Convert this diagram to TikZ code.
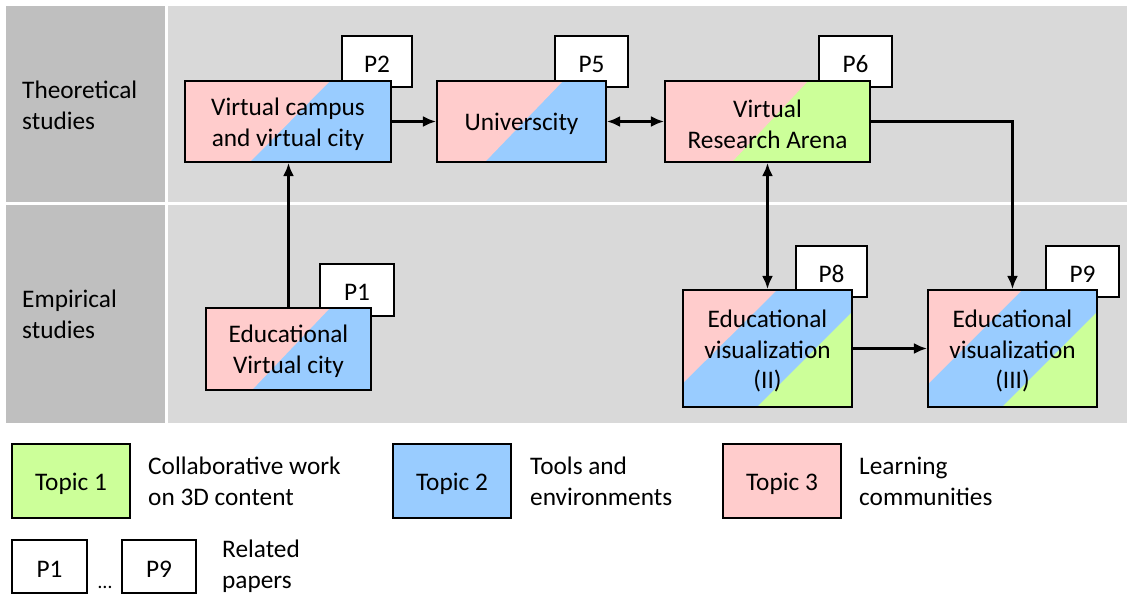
\documentclass[tikz,border=0pt]{standalone}
\usepackage{fontspec}
\setmainfont{Carlito}
\usetikzlibrary{arrows.meta}
\definecolor{topicA}{HTML}{CCFF99}% collaborative work
\definecolor{topicB}{HTML}{99CCFF}% tools and environments
\definecolor{topicC}{HTML}{FFCCCC}% learning communities
\definecolor{headgray}{HTML}{BFBFBF}
\definecolor{lanegray}{HTML}{D9D9D9}
\tikzset{
  boxlabel/.style={align=center, inner sep=0pt, yshift=-2.5pt},
  mainbox/.style={draw, line width=2.2pt, inner sep=0pt},
  paperbox/.style={draw, fill=white, line width=1.5pt, inner sep=0pt},
  topicbox/.style={draw, line width=2pt, inner sep=0pt, minimum width=118pt, minimum height=74pt},
  legtext/.style={anchor=west, inner sep=0pt, align=left},
  link/.style={line width=2.3pt, -{Latex[length=13pt,width=11pt]}},
  duplink/.style={line width=2.3pt, {Latex[length=13pt,width=11pt]}-{Latex[length=13pt,width=11pt]}}
}
\begin{document}
\begin{tikzpicture}[x=1pt, y=-1pt, font=\fontsize{25.3}{30.8}\selectfont]
\useasboundingbox (0,0) rectangle (1127,594);
\fill[white] (0,0) rectangle (1127,594);

% swim lanes
\fill[headgray] (6,6) rectangle (165,202);
\fill[headgray] (6,205) rectangle (165,423);
\fill[lanegray] (168,6) rectangle (1127,202);
\fill[lanegray] (168,205) rectangle (1127,423);
\node[legtext] (theo) at (22,105) {Theoretical\\studies};
\node[legtext] (emp) at (22,314) {Empirical\\studies};

% paper tags (behind the topic boxes)
\node[paperbox, minimum width=70pt, minimum height=51pt, label={[boxlabel]center:P2}] (p2) at (377,61.5) {};
\node[paperbox, minimum width=73pt, minimum height=51pt, label={[boxlabel]center:P5}] (p5) at (591.5,61.5) {};
\node[paperbox, minimum width=73pt, minimum height=51pt, label={[boxlabel]center:P6}] (p6) at (855.5,61.5) {};
\node[paperbox, minimum width=74pt, minimum height=52pt, label={[boxlabel]center:P1}] (p1) at (357,290) {};
\node[paperbox, minimum width=71pt, minimum height=51pt, label={[boxlabel]center:P8}] (p8) at (831.5,271.5) {};
\node[paperbox, minimum width=73pt, minimum height=51pt, label={[boxlabel]center:P9}] (p9) at (1082.5,271.5) {};

% diagonal topic fills
\fill[topicB] (185,81) rectangle (391,162);
\fill[topicC] (185,81) -- (330,81) -- (250,162) -- (185,162) -- cycle;
\fill[topicB] (437,81) rectangle (606,162);
\fill[topicC] (437,81) -- (563,81) -- (485,162) -- (437,162) -- cycle;
\fill[topicA] (665,81) rectangle (870,162);
\fill[topicC] (665,81) -- (808,81) -- (732,162) -- (665,162) -- cycle;
\fill[topicB] (206,308) rectangle (371,390);
\fill[topicC] (206,308) -- (330,308) -- (252,390) -- (206,390) -- cycle;
\fill[topicB] (683,290) rectangle (852,407);
\fill[topicC] (683,290) -- (777,290) -- (683,383) -- cycle;
\fill[topicA] (852,312) -- (852,407) -- (757,407) -- cycle;
\fill[topicB] (928,290) rectangle (1097,407);
\fill[topicC] (928,290) -- (1022,290) -- (928,384) -- cycle;
\fill[topicA] (1097,312) -- (1097,407) -- (1002,407) -- cycle;

% topic boxes
\node[mainbox, minimum width=206pt, minimum height=81pt,
  label={[boxlabel]center:{Virtual campus\\and virtual city}}] (vcampus) at (288,121.5) {};
\node[mainbox, minimum width=169pt, minimum height=81pt,
  label={[boxlabel]center:Universcity}] (univ) at (521.5,121.5) {};
\node[mainbox, minimum width=205pt, minimum height=81pt,
  label={[boxlabel]center:{Virtual\\Research Arena}}] (vra) at (767.5,121.5) {};
\node[mainbox, minimum width=165pt, minimum height=82pt,
  label={[boxlabel]center:{Educational\\Virtual city}}] (evcity) at (288.5,349) {};
\node[mainbox, minimum width=169pt, minimum height=117pt,
  label={[boxlabel]center:{Educational\\visualization\\(II)}}] (evis2) at (767.5,348.5) {};
\node[mainbox, minimum width=169pt, minimum height=117pt,
  label={[boxlabel]center:{Educational\\visualization\\(III)}}] (evis3) at (1012.5,348.5) {};

% connections
\draw[link] (evcity.north) -- (evcity.north |- vcampus.south);
\draw[link] (vcampus.east) -- (univ.west);
\draw[duplink] (univ.east) -- (vra.west);
\draw[duplink] (vra.south) -- (evis2.north);
\draw[link] (vra.east) -| (evis3.north);
\draw[link] (evis2.east) -- (evis3.west);

% legend
\node[topicbox, fill=topicA, label={[boxlabel]center:Topic 1}] (t1) at (71,481) {};
\node[legtext] (t1txt) at (148,481) {Collaborative work\\on 3D content};
\node[topicbox, fill=topicB, label={[boxlabel]center:Topic 2}] (t2) at (452,481) {};
\node[legtext] (t2txt) at (530,481) {Tools and\\environments};
\node[topicbox, fill=topicC, label={[boxlabel]center:Topic 3}] (t3) at (782,481) {};
\node[legtext] (t3txt) at (859,481) {Learning\\communities};
\node[paperbox, minimum width=75pt, minimum height=53pt, label={[boxlabel]center:P1}] (lp1) at (49.5,566.5) {};
\node[inner sep=0pt, anchor=base] (dots) at (105,588) {\fontsize{20}{24}\selectfont …};
\node[paperbox, minimum width=74pt, minimum height=53pt, label={[boxlabel]center:P9}] (lp9) at (159,566.5) {};
\node[legtext] (lptxt) at (222,566) {Related\\papers};
\end{tikzpicture}
\end{document}
